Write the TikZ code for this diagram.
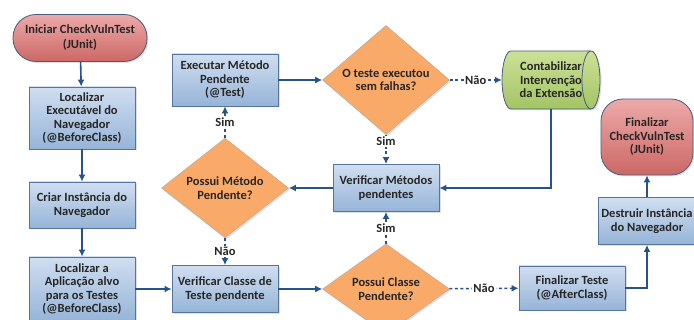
\documentclass[tikz,border=0pt]{standalone}
\usepackage{fontspec}
\setmainfont{Carlito}
\usetikzlibrary{arrows.meta, shapes.geometric, shadows}

\definecolor{flowline}{RGB}{38,82,142}
\definecolor{boxtop}{RGB}{208,222,240}
\definecolor{boxbottom}{RGB}{150,180,216}
\definecolor{boxborder}{RGB}{86,116,160}
\definecolor{termtop}{RGB}{236,170,168}
\definecolor{termbottom}{RGB}{204,104,102}
\definecolor{decfill}{RGB}{249,170,104}
\definecolor{decborder}{RGB}{196,170,150}
\definecolor{storetop}{RGB}{204,224,150}
\definecolor{storebottom}{RGB}{164,196,100}

\begin{document}
\begin{tikzpicture}[
    x=1pt, y=1pt,
    >={Latex[length=7pt, width=7pt]},
    every node/.style={font=\fontsize{12.5}{13.5}\selectfont\bfseries, align=center, text=black!85},
    soft shadow/.style={drop shadow={opacity=0.25, shadow xshift=1.5pt, shadow yshift=-1.5pt}},
    process/.style={rectangle, draw=boxborder, line width=0.8pt, top color=boxtop, bottom color=boxbottom,
        inner sep=1pt, minimum width=106pt, soft shadow},
    terminal/.style={rectangle, draw=boxborder!80!black, line width=0.8pt, top color=termtop, bottom color=termbottom,
        inner sep=1pt, soft shadow},
    decision/.style={diamond, draw=decborder, line width=0.6pt, fill=decfill, inner sep=0pt,
        minimum width=127pt, minimum height=67pt, soft shadow},
    storage body/.style={draw=boxborder!80!black, line width=0.8pt, top color=storetop, bottom color=storebottom, soft shadow},
    storage edge/.style={draw=boxborder!80!black, line width=0.8pt},
    storage/.style={rectangle, inner sep=1pt, minimum width=98pt, minimum height=58pt},
    flow/.style={->, line width=1.6pt, flowline},
    alt flow/.style={flow, dash pattern=on 3pt off 2.5pt},
    answer/.style={fill=white, inner sep=1pt},
]
\useasboundingbox (0,0) rectangle (694,-320);

% left column
\node[terminal, rounded corners=23pt, minimum width=134pt, minimum height=47pt] (start) at (80,-38)
    {Iniciar CheckVulnTest\\[1.5pt](JUnit)};
\node[process, minimum height=62pt] (locNav) at (82,-118)
    {Localizar\\Executável do\\Navegador\\(@BeforeClass)};
\node[process, minimum height=46pt] (criaNav) at (82,-205)
    {Criar Instância do\\Navegador};
\node[process, minimum height=64pt] (locApp) at (82,-289)
    {Localizar a\\Aplicação alvo\\para os Testes\\(@BeforeClass)};

% method loop
\node[process, minimum height=47pt] (verClasse) at (225,-289) {Verificar Classe de\\Teste pendente};
\node[decision] (possMetodo) at (225,-188) {Possui Método\\Pendente?};
\node[process, minimum height=52pt] (execMetodo) at (225,-80) {Executar Método\\Pendente\\(@Test)};
\node[decision, minimum height=68pt] (testeOk) at (386,-80) {O teste executou\\sem falhas?};
\node[process, minimum height=47pt] (verMetodos) at (386,-188) {Verificar Métodos\\pendentes};
\node[decision] (possClasse) at (386,-289) {Possui Classe\\Pendente?};

% storage drum, lying on its side
\path[storage body] (511,-51) -- (591,-51)
    arc[start angle=90, end angle=-90, x radius=9, y radius=29] -- (511,-109)
    arc[start angle=270, end angle=90, x radius=9, y radius=29] -- cycle;
\draw[storage edge] (591,-51) arc[start angle=90, end angle=270, x radius=9, y radius=29];
\node[storage] (contab) at (551,-80) {Contabilizar\\Intervenção\\da Extensão};

% right column
\node[process, minimum height=44pt] (fimTeste) at (572,-288) {Finalizar Teste\\(@AfterClass)};
\node[process, minimum width=98pt, minimum height=47pt] (destruir) at (647,-221)
    {Destruir Instância\\do Navegador};
\node[terminal, rounded corners=22pt, minimum width=92pt, minimum height=76pt] (fimCheck) at (647,-137)
    {Finalizar\\CheckVulnTest\\(JUnit)};

\draw[flow] (start) -- (locNav);
\draw[flow] (locNav) -- (criaNav);
\draw[flow] (criaNav) -- (locApp);
\draw[flow] (locApp) -- (verClasse);
\draw[flow] (verClasse) -- (possClasse);
\draw[alt flow] (possClasse) -- node[answer] {Não} (fimTeste);
\draw[alt flow] (possClasse) -- node[answer] {Sim} (verMetodos);
\draw[flow] (verMetodos) -- (possMetodo);
\draw[alt flow] (possMetodo) -- node[answer] {Não} (verClasse);
\draw[alt flow] (possMetodo) -- node[answer] {Sim} (execMetodo);
\draw[flow] (execMetodo) -- (testeOk);
\draw[alt flow] (testeOk) -- node[answer] {Não} (contab);
\draw[alt flow] (testeOk) -- node[pos=0.22, answer] {Sim} (verMetodos);
\draw[flow] (contab) |- (verMetodos);
\draw[flow] (fimTeste) -| (destruir);
\draw[flow] (destruir) -- (fimCheck);
\end{tikzpicture}
\end{document}
